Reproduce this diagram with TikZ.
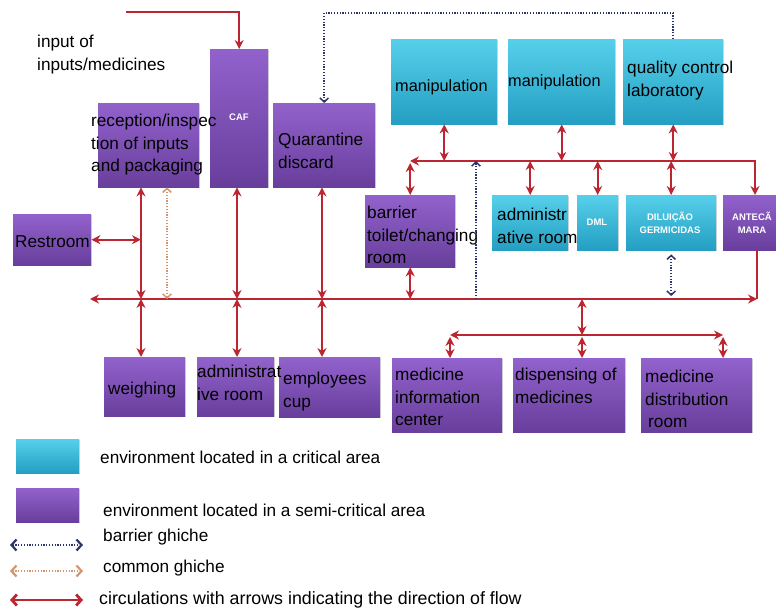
\documentclass[tikz,border=0pt]{standalone}
\usepackage{fontspec}
\setmainfont{Liberation Sans}
\usetikzlibrary{arrows.meta,shadows}

\definecolor{critT}{RGB}{86,208,234}
\definecolor{critB}{RGB}{36,158,194}
\definecolor{semiT}{RGB}{146,98,204}
\definecolor{semiB}{RGB}{104,62,156}
\definecolor{flowred}{RGB}{188,38,48}
\definecolor{barblue}{RGB}{44,52,110}
\definecolor{comorange}{RGB}{214,150,108}

\tikzset{
  room/.style={anchor=north west, inner sep=0pt, drop shadow={opacity=0.3, shadow xshift=1.2pt, shadow yshift=-1.2pt}},
  crit/.style={room, top color=critT, bottom color=critB},
  semi/.style={room, top color=semiT, bottom color=semiB},
  txt/.style={anchor=north west, align=left, inner sep=0pt, font=\fontsize{17.2}{22.5}\selectfont},
  line/.style={anchor=west, inner sep=0pt, font=\fontsize{17.2}{22.5}\selectfont},
  tag/.style={white, inner sep=0pt, align=center, font=\bfseries\fontsize{9.5}{13}\selectfont},
  flow/.style={draw=flowred, line width=1.9pt},
  barr/.style={draw=barblue, line width=1.5pt, dash pattern=on 1.3pt off 1.5pt},
  com/.style={draw=comorange, line width=1.5pt, dash pattern=on 1.3pt off 1.5pt},
  barbs/.style={{Straight Barb[length=4pt,width=8.5pt]}-{Straight Barb[length=4pt,width=8.5pt]}},
  barbL/.style={{Straight Barb[length=5pt,width=11pt]}-{Straight Barb[length=5pt,width=11pt]}},
  >={Stealth[length=9pt,width=9pt]}
}

\begin{document}
\begin{tikzpicture}[x=1pt, y=-1pt]
\useasboundingbox[fill=white] (0,0) rectangle (776,609);

% rooms
\node[semi, minimum width=101pt, minimum height=84pt] (rec) at (98,103) {};
\node[semi, minimum width=58pt, minimum height=138pt] (caf) at (210,49) {};
\node[semi, minimum width=102pt, minimum height=84pt] (quar) at (273,103) {};
\node[semi, minimum width=78pt, minimum height=51pt] (rest) at (13,214) {};
\node[crit, minimum width=106pt, minimum height=85pt] (m1) at (391,39) {};
\node[crit, minimum width=107pt, minimum height=85pt] (m2) at (508,39) {};
\node[crit, minimum width=100pt, minimum height=85pt] (qc) at (623,39) {};
\node[semi, minimum width=90pt, minimum height=72pt] (bar) at (365,195) {};
\node[crit, minimum width=76pt, minimum height=55pt] (adm) at (492,195) {};
\node[crit, minimum width=41pt, minimum height=55pt] (dml) at (577,195) {};
\node[crit, minimum width=90pt, minimum height=55pt] (dil) at (626,195) {};
\node[semi, minimum width=65pt, minimum height=55pt] (ante) at (723,195) {};
\node[semi, minimum width=81pt, minimum height=59pt] (weigh) at (104,357) {};
\node[semi, minimum width=77pt, minimum height=59pt] (adm2) at (197,357) {};
\node[semi, minimum width=101pt, minimum height=60pt] (emp) at (279,357) {};
\node[semi, minimum width=110pt, minimum height=74pt] (mic) at (392,358) {};
\node[semi, minimum width=112pt, minimum height=74pt] (disp) at (513,358) {};
\node[semi, minimum width=111pt, minimum height=74pt] (dist) at (641,358) {};

% texts
\node[txt] (inpT) at (37,35) {input of\\inputs/medicines};
\node[txt] (recT) at (91,114) {reception/inspec\\tion of inputs\\and packaging};
\node[tag] (cafT) at (239,117) {CAF};
\node[txt] (quarT) at (278,133) {Quarantine\\discard};
\node[line] (restT) at (15,242) {Restroom};
\node[line, font=\fontsize{16.3}{22.5}\selectfont] (m1T) at (395,87) {manipulation};
\node[line, font=\fontsize{16.3}{22.5}\selectfont] (m2T) at (508,82) {manipulation};
\node[txt] (qcT) at (627,61) {quality control\\laboratory};
\node[txt] (barT) at (367,206) {barrier\\toilet/changing\\room};
\node[txt] (admT) at (497,208) {administr\\ative room};
\node[tag] (dmlT) at (597,222) {DML};
\node[tag] (dilT) at (670,223) {DILUIÇÃO\\GERMICIDAS};
\node[tag] (anteT) at (752,223) {ANTECÃ\\MARA};
\node[line] (weighT) at (108,390) {weighing};
\node[txt] (adm2T) at (197,365) {administrat\\ive room};
\node[txt] (empT) at (283,372) {employees\\cup};
\node[txt] (micT) at (395,368) {medicine\\information\\center};
\node[txt] (dispT) at (515,368) {dispensing of\\medicines};
\node[txt] (distT) at (645,370) {medicine\\distribution\\\hspace{3pt}room};

% lines
\coordinate (mainL) at (90,299);
\coordinate (mainR) at (757,299);
\coordinate (upL) at (410,161);
\coordinate (upR) at (755,161);
\coordinate (lowL) at (450,335);
\coordinate (lowR) at (723,335);
\coordinate (jA) at (141,299);
\coordinate (jO) at (167,299);
\coordinate (jB) at (237,299);
\coordinate (jC) at (322,299);
\coordinate (jD) at (476,299);
\coordinate (jM) at (582,299);
\coordinate (inS) at (126,12);
\coordinate (dtop) at (0,13);

\draw[flow,->] (inS) -- (inS -| caf) -- (caf.north);
\draw[barr,-{Straight Barb[length=4pt,width=8.5pt]}] (qc.north) -- (qc.north |- dtop) -| (quar.north);

\draw[flow,<->] (mainL) -- (mainR);
\draw[flow] (ante.south -| mainR) -- (mainR);
\draw[flow,<->] (upL) -- (upR) -- (ante.north -| upR);
\draw[flow,<->] (lowL) -- (lowR);

\draw[flow,<->] (rest.east) -- (rest.east -| jA);
\draw[flow,<->] (rec.south -| jA) -- (jA);
\draw[flow,<->] (caf.south -| jB) -- (jB);
\draw[flow,<->] (quar.south -| jC) -- (jC);
\draw[flow,<->] (jA) -- (weigh.north -| jA);
\draw[flow,<->] (jB) -- (adm2.north -| jB);
\draw[flow,<->] (jC) -- (emp.north -| jC);
\draw[com,barbs] (rec.south -| jO) -- (jO);

\draw[flow,<->] (m1.south) -- (m1.south |- upL);
\draw[flow,<->] (m2.south) -- (m2.south |- upL);
\draw[flow,<->] (qc.south) -- (qc.south |- upL);
\draw[flow,<->, shorten <=2pt] (bar.north |- upL) -- (bar.north);
\draw[flow,<->] (adm.north |- upL) -- (adm.north);
\draw[flow,<->] (dml.north |- upL) -- (dml.north);
\draw[flow,<->] (dil.north |- upL) -- (dil.north);
\draw[flow,<->] (bar.south) -- (bar.south |- mainL);
\draw[barr,-{Straight Barb[length=4pt,width=8.5pt]}] (jD) -- (jD |- upL);
\draw[barr,barbs, shorten <=4pt, shorten >=3pt] (dil.south) -- (dil.south |- mainL);

\draw[flow,<->] (jM) -- (jM |- lowL);
\draw[flow,<->, shorten <=2pt] (lowL) -- (mic.north -| lowL);
\draw[flow,<->, shorten <=2pt] (jM |- lowL) -- (disp.north -| jM);
\draw[flow,<->, shorten <=2pt] (lowR) -- (dist.north -| lowR);

% legend
\node[crit, minimum width=63pt, minimum height=34pt] (legC) at (16,439) {};
\node[semi, minimum width=63pt, minimum height=34pt] (legS) at (16,488) {};
\node[line] (legCT) at (100,457) {environment located in a critical area};
\node[line] (legST) at (103,510) {environment located in a semi-critical area};
\node[line] (legBT) at (103,537) {barrier ghiche};
\node[line] (legOT) at (103,568) {common ghiche};
\node[line, font=\fontsize{17.8}{22.5}\selectfont] (legRT) at (99,600) {circulations with arrows indicating the direction of flow};

\coordinate (lb1) at (10,545);
\coordinate (lb2) at (83,545);
\coordinate (lo1) at (10,571);
\coordinate (lo2) at (83,571);
\coordinate (lr1) at (10,600);
\coordinate (lr2) at (83,600);
\draw[barr, line width=2.2pt, barbL] (lb1) -- (lb2);
\draw[com, line width=2.2pt, barbL] (lo1) -- (lo2);
\draw[flow, line width=2.8pt, barbL] (lr1) -- (lr2);

\end{tikzpicture}
\end{document}
